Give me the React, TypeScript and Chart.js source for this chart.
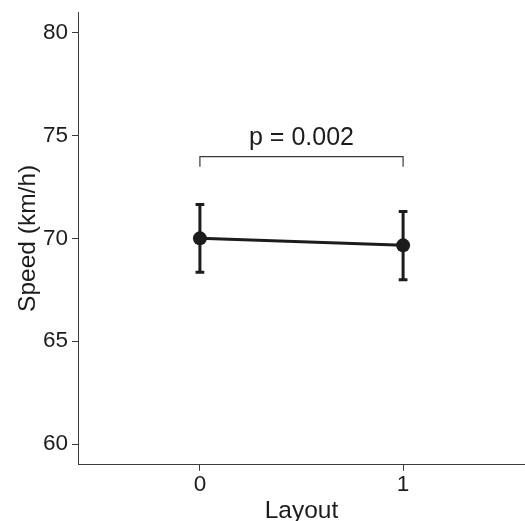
import React, { useEffect, useRef } from "react";
import { Chart, registerables } from "chart.js";

Chart.register(...registerables);

// ---- data ----
const layoutCategories: number[] = [0, 1];
const speedMeans: number[] = [70.0, 69.66];
const speedLower: number[] = [68.35, 67.99];
const speedUpper: number[] = [71.65, 71.31];
const yTickValues: number[] = [60, 65, 70, 75, 80];
const xTickValues: number[] = [0, 1];
const bracketY: number = 73.97;
const bracketTipY: number = 73.48;
const bracketLabel: string = "p = 0.002";
const xTitle = "Layout";
const yTitle = "Speed (km/h)";

const FONT = "'Liberation Sans', Arial, Helvetica, sans-serif";
const INK = "#1c1c1c";
const AXIS = "#3a3a3a";

const overlayPlugin = {
  id: "overlay",
  beforeDatasetsDraw(chart: any) {
    const { ctx, scales } = chart;
    const xs = scales.x;
    const ys = scales.y;
    const capHalf = 0.0215;
    ctx.save();
    ctx.strokeStyle = INK;
    ctx.lineWidth = 3;
    ctx.lineCap = "butt";
    layoutCategories.forEach((c, i) => {
      const px = xs.getPixelForValue(c);
      const top = ys.getPixelForValue(speedUpper[i]);
      const bot = ys.getPixelForValue(speedLower[i]);
      const l = xs.getPixelForValue(c - capHalf);
      const r = xs.getPixelForValue(c + capHalf);
      ctx.beginPath();
      ctx.moveTo(px, top);
      ctx.lineTo(px, bot);
      ctx.moveTo(l, top);
      ctx.lineTo(r, top);
      ctx.moveTo(l, bot);
      ctx.lineTo(r, bot);
      ctx.stroke();
    });
    ctx.restore();
  },
  afterDatasetsDraw(chart: any) {
    const { ctx, scales } = chart;
    const xs = scales.x;
    const ys = scales.y;
    const x0 = xs.getPixelForValue(layoutCategories[0]);
    const x1 = xs.getPixelForValue(layoutCategories[1]);
    const yb = ys.getPixelForValue(bracketY);
    const yt = ys.getPixelForValue(bracketTipY);
    ctx.save();
    ctx.strokeStyle = AXIS;
    ctx.lineWidth = 1.2;
    ctx.beginPath();
    ctx.moveTo(x0, yt);
    ctx.lineTo(x0, yb);
    ctx.lineTo(x1, yb);
    ctx.lineTo(x1, yt);
    ctx.stroke();
    ctx.fillStyle = INK;
    ctx.font = `25px ${FONT}`;
    ctx.textAlign = "center";
    ctx.textBaseline = "alphabetic";
    ctx.fillText(bracketLabel, (x0 + x1) / 2, yb - 11.5);
    ctx.restore();
  },
};

const zeroPad = (s: any) => {
  s.paddingLeft = 0;
  s.paddingRight = 0;
  s.paddingTop = 0;
  s.paddingBottom = 0;
};

export default function App() {
  const ref = useRef<HTMLCanvasElement | null>(null);
  useEffect(() => {
    if (!ref.current) return;
    const chart = new Chart(ref.current, {
      type: "scatter",
      data: {
        datasets: [
          {
            data: layoutCategories.map((c, i) => ({ x: c, y: speedMeans[i] })),
            showLine: true,
            borderColor: INK,
            backgroundColor: INK,
            borderWidth: 3,
            pointRadius: 7,
            pointBorderWidth: 0,
            pointBackgroundColor: INK,
            clip: false,
          },
        ],
      },
      options: {
        animation: false,
        responsive: true,
        maintainAspectRatio: false,
        layout: { autoPadding: false, padding: { top: 12, right: 0, left: 0, bottom: 0 } },
        plugins: { legend: { display: false }, tooltip: { enabled: false } },
        scales: {
          x: {
            type: "linear",
            min: -0.6,
            max: 1.6,
            afterBuildTicks: (s: any) => {
              s.ticks = xTickValues.map((v) => ({ value: v }));
            },
            afterFit: (s: any) => {
              s.height = 56.3;
              zeroPad(s);
            },
            grid: {
              drawOnChartArea: false,
              drawTicks: true,
              tickLength: 6,
              tickColor: AXIS,
              tickWidth: 1,
            },
            border: { display: true, color: AXIS, width: 1 },
            ticks: {
              color: INK,
              padding: 1,
              font: { family: FONT, size: 22.5 },
              callback: (v: any) => String(v),
            },
            title: {
              display: true,
              text: xTitle,
              color: INK,
              font: { family: FONT, size: 24.5 },
              padding: { top: 0, bottom: -4.5 },
            },
          },
          y: {
            type: "linear",
            min: 59,
            max: 81,
            afterBuildTicks: (s: any) => {
              s.ticks = yTickValues.map((v) => ({ value: v }));
            },
            afterFit: (s: any) => {
              s.width = 78;
              zeroPad(s);
            },
            grid: {
              drawOnChartArea: false,
              drawTicks: true,
              tickLength: 6,
              tickColor: AXIS,
              tickWidth: 1,
            },
            border: { display: true, color: AXIS, width: 1 },
            ticks: {
              color: INK,
              padding: 4,
              font: { family: FONT, size: 22.5 },
              callback: (v: any) => String(v),
            },
            title: {
              display: true,
              text: yTitle,
              color: INK,
              font: { family: FONT, size: 24.5 },
              padding: { top: 13.5, bottom: 0 },
            },
          },
        },
      },
      plugins: [overlayPlugin],
    });
    return () => chart.destroy();
  }, []);
  return (
    <div
      style={{
        position: "fixed",
        left: 0,
        top: 0,
        width: 525,
        height: 521,
        background: "#fff",
      }}
    >
      <canvas ref={ref} />
    </div>
  );
}
